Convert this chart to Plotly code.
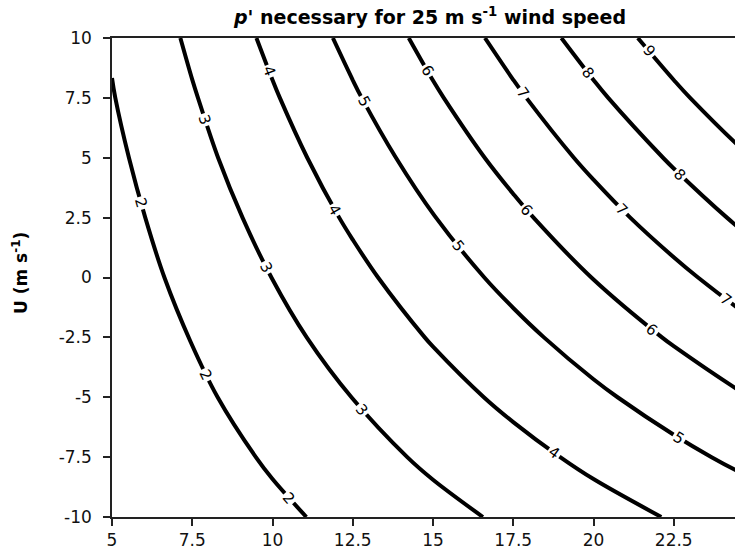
import math
import numpy as np
import plotly.graph_objects as go

# Grid (x = horizontal quantity, U = wind component) and p' values
x_vals = [5, 7.5, 10, 12.5, 15, 17.5, 20, 22.5, 25, 27.5]
u_vals = [-10, -7.5, -5, -2.5, 0, 2.5, 5, 7.5, 10]
p_rows = [
    [0.91, 1.36, 1.81, 2.26, 2.72, 3.17, 3.62, 4.07, 4.53, 4.98],   # U = -10
    [1.06, 1.58, 2.11, 2.64, 3.17, 3.69, 4.22, 4.75, 5.28, 5.80],   # U = -7.5
    [1.21, 1.81, 2.41, 3.01, 3.62, 4.22, 4.82, 5.42, 6.03, 6.63],   # U = -5
    [1.36, 2.03, 2.71, 3.39, 4.07, 4.74, 5.42, 6.10, 6.78, 7.45],   # U = -2.5
    [1.51, 2.26, 3.01, 3.76, 4.52, 5.27, 6.02, 6.77, 7.53, 8.28],   # U = 0
    [1.66, 2.48, 3.31, 4.14, 4.97, 5.79, 6.62, 7.45, 8.28, 9.10],   # U = 2.5
    [1.81, 2.71, 3.61, 4.51, 5.42, 6.32, 7.22, 8.12, 9.03, 9.93],   # U = 5
    [1.96, 2.93, 3.91, 4.89, 5.87, 6.84, 7.82, 8.80, 9.78, 10.75],  # U = 7.5
    [2.08, 3.16, 4.21, 5.26, 6.32, 7.37, 8.42, 9.47, 10.53, 11.58], # U = 10
]

# Contour-label placement: level and the U value where the label sits on that line
label_levels = [2, 2, 2, 3, 3, 3, 4, 4, 4, 5, 5, 5, 6, 6, 6, 7, 7, 7, 8, 8, 9]
label_u = [3.11, -4.06, -9.21, 6.59, 0.40, -5.52, 8.61, 2.83, -7.33,
           7.35, 1.30, -6.70, 8.61, 2.83, -2.18, 7.70, 2.83, -0.93, 8.54, 4.29, 9.44]

x_ticks = [5, 7.5, 10, 12.5, 15, 17.5, 20, 22.5]
x_tick_text = ["5", "7.5", "10", "12.5", "15", "17.5", "20", "22.5"]
y_ticks = [-10, -7.5, -5, -2.5, 0, 2.5, 5, 7.5, 10]
y_tick_text = ["-10", "-7.5", "-5", "-2.5", "0", "2.5", "5", "7.5", "10"]

FONT = "DejaVu Sans, Verdana, sans-serif"

# plot geometry
W, H = 735, 550
ML, MR, MT, MB = 112, 0, 38, 33
PX_PER_X = 32.1
x_range = [5, 5 + (W - ML - MR) / PX_PER_X]
y_range = [-10, 10]
PX_PER_U = (H - MT - MB) / (y_range[1] - y_range[0])

Z = np.array(p_rows, dtype=float)
XV = np.array(x_vals, dtype=float)
UV = np.array(u_vals, dtype=float)


def row_at(u):
    return np.array([np.interp(u, UV, Z[:, j]) for j in range(len(XV))])


def zval(x, u):
    return float(np.interp(x, XV, row_at(u)))


annotations = []
for lev, u in zip(label_levels, label_u):
    x = float(np.interp(lev, row_at(u), XV))
    h = 0.05
    dzdx = (zval(x + h, u) - zval(x - h, u)) / (2 * h)
    dzdu = (zval(x, u + h) - zval(x, u - h)) / (2 * h)
    ang = math.degrees(math.atan2(dzdx * PX_PER_U, dzdu * PX_PER_X))
    annotations.append(dict(
        text=str(lev), x=x, y=u, xref="x", yref="y",
        showarrow=False, textangle=ang, xanchor="center", yanchor="middle",
        font=dict(family=FONT, size=15, color="black"),
        bgcolor="white", borderpad=1,
    ))

annotations.append(dict(
    text="<b>U (m s<sup>-1</sup>)</b>",
    xref="paper", yref="paper", x=(20 - ML) / (W - ML - MR), y=(517 - 273) / (H - MT - MB),
    xanchor="center", yanchor="middle", textangle=-90, showarrow=False,
    font=dict(family=FONT, size=17, color="black"),
))

fig = go.Figure()
fig.add_trace(go.Contour(
    x=x_vals, y=u_vals, z=p_rows,
    contours=dict(start=2, end=9, size=1, coloring="lines", showlabels=False),
    line=dict(width=4, smoothing=1),
    colorscale=[[0, "black"], [1, "black"]],
    showscale=False,
    hoverinfo="skip",
))

fig.update_layout(
    width=W, height=H,
    margin=dict(l=ML, r=MR, t=MT, b=MB),
    paper_bgcolor="white", plot_bgcolor="white",
    showlegend=False,
    title=dict(
        text="<b><i>p</i>' necessary for 25 m s<sup>-1</sup> wind speed</b>",
        x=430 / W, xref="container", xanchor="center",
        y=1 - 17 / H, yref="container", yanchor="middle",
        font=dict(family=FONT, size=19, color="black"),
    ),
    xaxis=dict(
        range=x_range, tickvals=x_ticks, ticktext=x_tick_text,
        showgrid=False, zeroline=False,
        showline=True, linecolor="#222", linewidth=1.5, mirror=True,
        ticks="outside", ticklen=7, tickwidth=1.5, tickcolor="#222",
        tickfont=dict(family=FONT, size=17, color="#111"),
        ticklabelstandoff=0,
    ),
    yaxis=dict(
        range=y_range, tickvals=y_ticks, ticktext=y_tick_text,
        showgrid=False, zeroline=False,
        showline=True, linecolor="#222", linewidth=1.5, mirror=False,
        ticks="outside", ticklen=7, tickwidth=1.5, tickcolor="#222",
        tickfont=dict(family=FONT, size=17, color="#111"),
        ticklabelstandoff=8,
    ),
    annotations=annotations,
)

fig.write_html("out.html")
